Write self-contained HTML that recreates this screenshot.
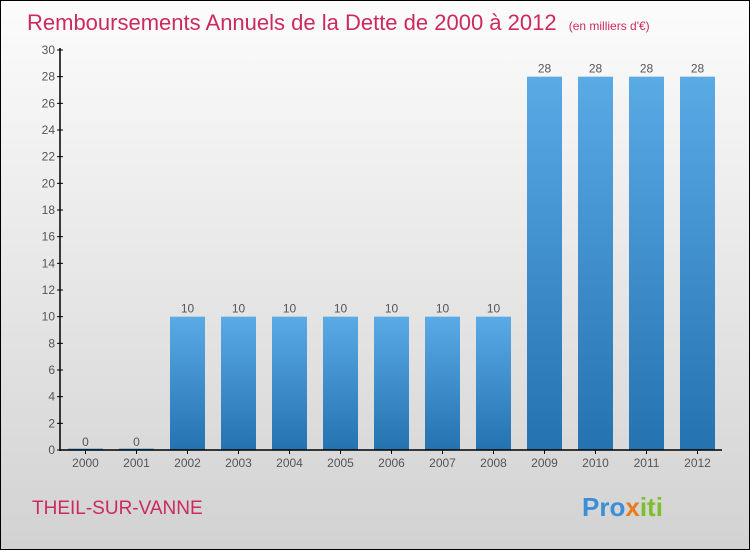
<!DOCTYPE html>
<html><head><meta charset="utf-8"><style>
html,body{margin:0;padding:0}
body{width:750px;height:550px;overflow:hidden;font-family:"Liberation Sans",sans-serif}
</style></head><body>
<svg width="750" height="550">
<defs>
<linearGradient id="bg" x1="0" y1="0" x2="0" y2="1"><stop offset="0" stop-color="#fcfcfc"/><stop offset="1" stop-color="#d2d2d2"/></linearGradient>
<linearGradient id="bar" x1="0" y1="0" x2="0" y2="1"><stop offset="0" stop-color="#5aaae6"/><stop offset="1" stop-color="#2473b0"/></linearGradient>
</defs>
<rect x="0.5" y="0.5" width="749" height="549" fill="url(#bg)" stroke="#000"/>
<text x="27" y="30" font-size="22" fill="#cc2a5e">Remboursements Annuels de la Dette de 2000 à 2012 <tspan font-size="12" dx="6">(en milliers d'€)</tspan></text>
<g id="plot"></g>
<text x="32" y="514" font-size="19" fill="#cc2a5e">THEIL-SUR-VANNE</text>
<text x="582" y="516" font-size="26" font-weight="bold"><tspan fill="#3a8fd8">Pro</tspan><tspan fill="#e87b1e">x</tspan><tspan fill="#7bbf2a">iti</tspan></text>
</svg>
<script>
const years=["2000","2001","2002","2003","2004","2005","2006","2007","2008","2009","2010","2011","2012"];
const values=[0,0,10,10,10,10,10,10,10,28,28,28,28];
const ticks=[0,2,4,6,8,10,12,14,16,18,20,22,24,26,28,30];
const NS="http://www.w3.org/2000/svg";
const g=document.getElementById('plot');
const y=v=>450-v*400/30, x=i=>85.5+51*i;
function el(t,a,txt){const e=document.createElementNS(NS,t);for(const k in a)e.setAttribute(k,a[k]);if(txt!==undefined)e.textContent=txt;g.appendChild(e);return e;}
ticks.forEach(t=>{
 const l=el('line',{x1:57,x2:63,y1:y(t),y2:y(t),stroke:'#000'});
 
 
 const tx=el('text',{x:55,y:y(t)+4,'font-size':12,fill:'#555','text-anchor':'end'},t);
 
 
});
years.forEach((yr,i)=>{
 const v=values[i];
 const h=Math.max(450-y(v),1.5);
 const r=el('rect',{x:x(i)-17.5,y:450-h,width:35,height:h,fill:'url(#bar)'});
 
 
 const vl=el('text',{x:x(i),y:y(v)-4,'font-size':12,fill:'#555','text-anchor':'middle'},v);
 
 
 const tk=el('line',{x1:x(i),x2:x(i),y1:450,y2:454,stroke:'#000'});
 
 
 const xl=el('text',{x:x(i),y:467,'font-size':12,fill:'#555','text-anchor':'middle'},yr);
 
 
});
const ya=el('line',{x1:60,x2:60,y1:48,y2:451,stroke:'#000','stroke-width':1.5});


const xa=el('line',{x1:60,x2:722,y1:450,y2:450,stroke:'#000','stroke-width':1.5});


</script>
</body></html>
